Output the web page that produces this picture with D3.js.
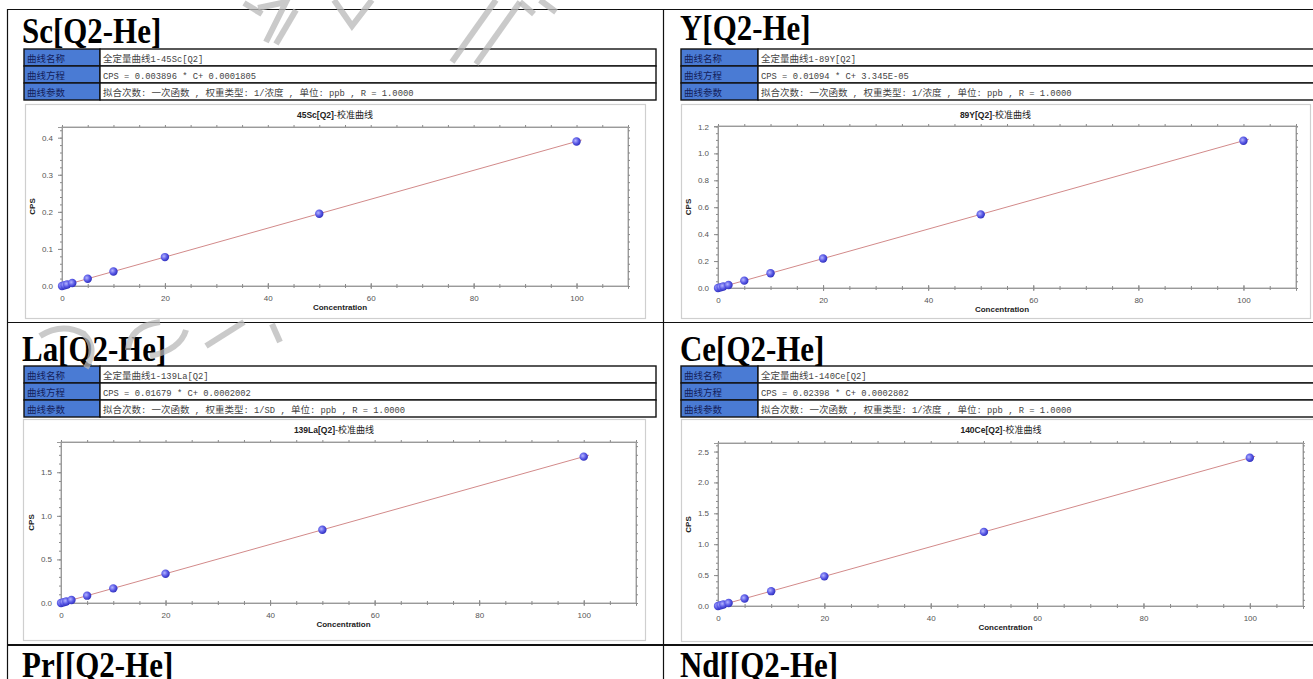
<!DOCTYPE html>
<html>
<head>
<meta charset="utf-8">
<script src="https://cdn.jsdelivr.net/npm/d3@7"></script>
<style>
  body { margin: 0; background: #fff; }
  svg { display: block; }
</style>
</head>
<body>
<script>
// ---- calibration data -------------------------------------------------
const sectionTitles = ["Sc[Q2-He]", "Y[Q2-He]", "La[Q2-He]", "Ce[Q2-He]"];
const nextTitles = ["Pr[[Q2-He]", "Nd[[Q2-He]"];
const rowLabels = ["曲线名称", "曲线方程", "曲线参数"];
const curveNames = ["全定量曲线1-45Sc[Q2]", "全定量曲线1-89Y[Q2]", "全定量曲线1-139La[Q2]", "全定量曲线1-140Ce[Q2]"];
const equations = [
  "CPS = 0.003896 * C+ 0.0001805",
  "CPS = 0.01094 * C+ 3.345E-05",
  "CPS = 0.01679 * C+ 0.0002002",
  "CPS = 0.02398 * C+ 0.0002802"
];
const fitParams = [
  "拟合次数: 一次函数 , 权重类型: 1/浓度 , 单位: ppb , R = 1.0000",
  "拟合次数: 一次函数 , 权重类型: 1/浓度 , 单位: ppb , R = 1.0000",
  "拟合次数: 一次函数 , 权重类型: 1/SD , 单位: ppb , R = 1.0000",
  "拟合次数: 一次函数 , 权重类型: 1/浓度 , 单位: ppb , R = 1.0000"
];
const chartIsotopes = ["45Sc[Q2]", "89Y[Q2]", "139La[Q2]", "140Ce[Q2]"];
const chartSuffix = "-校准曲线";

const concentrations = [0, 0.5, 1, 2, 5, 10, 20, 50, 100];   // ppb
const cpsSc = [0.0002, 0.0021, 0.0041, 0.0080, 0.0197, 0.0392, 0.0780, 0.1950, 0.3898];
const cpsY  = [0.0000, 0.0055, 0.0110, 0.0219, 0.0547, 0.1094, 0.2188, 0.5470, 1.0940];
const cpsLa = [0.0002, 0.0086, 0.0170, 0.0338, 0.0842, 0.1681, 0.3360, 0.8397, 1.6792];
const cpsCe = [0.0003, 0.0123, 0.0243, 0.0482, 0.1202, 0.2401, 0.4799, 1.1993, 2.3983];
const cpsSeries = [cpsSc, cpsY, cpsLa, cpsCe];

// fitted lines (stated in the equation row)
const slopes = [0.003896, 0.01094, 0.01679, 0.02398];
const intercepts = [0.0001805, 3.345e-05, 0.0002002, 0.0002802];
const fitRange = [0, 101];

const xTicks = [0, 20, 40, 60, 80, 100];
const xMinorStep = 5;
const yTicks = [
  [0, 0.1, 0.2, 0.3, 0.4],
  [0, 0.2, 0.4, 0.6, 0.8, 1.0, 1.2],
  [0, 0.5, 1.0, 1.5],
  [0, 0.5, 1.0, 1.5, 2.0, 2.5]
];
const yMinorSteps = [0.02, 0.05, 0.1, 0.1];

// ---- page layout (pixel boxes for every section) ----------------------
const layout = [
  { title: [22, 43], table: [24, 49, 632, 76], box: [25, 104, 620, 214], plot: [62, 127, 628, 286] },
  { title: [680, 40], table: [681, 49, 640, 77], box: [681, 104, 629, 214], plot: [718, 126, 1296, 288] },
  { title: [22, 361], table: [24, 366, 632, 76], box: [23, 419, 622, 221], plot: [61, 442, 636, 603] },
  { title: [680, 361], table: [681, 366, 640, 77], box: [681, 419, 640, 222], plot: [718, 443, 1303, 606] }
];
const nextTitlePos = [[22, 677], [680, 677]];

const W = 1313, H = 679;
const svg = d3.select("body").append("svg").attr("width", W).attr("height", H);

const defs = svg.append("defs");
const grad = defs.append("radialGradient").attr("id", "ball")
  .attr("cx", "38%").attr("cy", "40%").attr("r", "65%");
grad.append("stop").attr("offset", "0%").attr("stop-color", "#b4b4ff");
grad.append("stop").attr("offset", "55%").attr("stop-color", "#5a5ae6");
grad.append("stop").attr("offset", "100%").attr("stop-color", "#2c2cb8");

// ---- document grid ----------------------------------------------------
const grid = svg.append("g").attr("stroke", "#111").attr("fill", "none");
grid.append("line").attr("x1", 7).attr("x2", W).attr("y1", 9.5).attr("y2", 9.5).attr("stroke-width", 1.2);
grid.append("line").attr("x1", 7).attr("x2", W).attr("y1", 322.5).attr("y2", 322.5).attr("stroke-width", 1.2);
grid.append("line").attr("x1", 7).attr("x2", W).attr("y1", 645).attr("y2", 645).attr("stroke-width", 2);
grid.append("line").attr("x1", 7.5).attr("x2", 7.5).attr("y1", 9).attr("y2", H).attr("stroke-width", 1.2);
grid.append("line").attr("x1", 663.5).attr("x2", 663.5).attr("y1", 9).attr("y2", H).attr("stroke-width", 1.2);

// mixed CJK / Latin runs in a single line of text
const cjkRe = /[\u3000-\u9fff\uff00-\uffef]+|[^\u3000-\u9fff\uff00-\uffef]+/g;
function richText(sel, str, latinFont, latinSize, cjkSize) {
  (str.match(cjkRe) || []).forEach(run => {
    const isCjk = /[\u3000-\u9fff\uff00-\uffef]/.test(run);
    sel.append("tspan")
      .attr("font-family", isCjk ? "'Noto Sans CJK SC'" : latinFont)
      .attr("font-size", isCjk ? cjkSize : latinSize)
      .attr("xml:space", "preserve")
      .text(run);
  });
}

// large condensed serif heading
function heading(x, y, str) {
  svg.append("text")
    .attr("transform", `translate(${x},${y}) scale(0.86,1)`)
    .attr("font-family", "'Liberation Serif', 'Times New Roman', serif")
    .attr("font-weight", "bold").attr("font-size", 36).attr("fill", "#000")
    .text(str);
}

function drawSection(i) {
  const L = layout[i];
  const g = svg.append("g");

  heading(L.title[0], L.title[1], sectionTitles[i]);

  // info table
  const [tx, ty, tw, lw] = L.table;
  const rh = 17;
  const values = [curveNames[i], equations[i], fitParams[i]];
  rowLabels.forEach((lab, r) => {
    const y = ty + r * rh;
    g.append("rect").attr("x", tx).attr("y", y).attr("width", lw).attr("height", rh)
      .attr("fill", "#4a7bd4").attr("stroke", "#111").attr("stroke-width", 1.4);
    g.append("rect").attr("x", tx + lw).attr("y", y).attr("width", tw - lw).attr("height", rh)
      .attr("fill", "#fff").attr("stroke", "#111").attr("stroke-width", 1.4);
    g.append("text").attr("x", tx + 3).attr("y", y + 12.5)
      .attr("font-family", "'Noto Sans CJK SC'").attr("font-size", 9.5).attr("fill", "#13205a")
      .text(lab);
    const t = g.append("text").attr("x", tx + lw + 3).attr("y", y + 12.5).attr("fill", "#444");
    richText(t, values[r], "'Liberation Mono', monospace", 8.8, 9.5);
  });

  // chart frame
  const [bx, by, bw, bh] = L.box;
  g.append("rect").attr("x", bx + 0.5).attr("y", by + 0.5).attr("width", bw).attr("height", bh)
    .attr("fill", "#fff").attr("stroke", "#cfcfcf").attr("stroke-width", 1.2);

  const title = g.append("text").attr("x", bx + bw / 2).attr("y", by + 14)
    .attr("text-anchor", "middle").attr("fill", "#222");
  title.append("tspan").attr("font-family", "'Liberation Sans', Arial, sans-serif")
    .attr("font-weight", "bold").attr("font-size", 8.5).text(chartIsotopes[i]);
  title.append("tspan").attr("font-family", "'Noto Sans CJK SC'").attr("font-size", 9)
    .text(chartSuffix);

  // scales
  const [px0, py0, px1, py1] = L.plot;
  const cps = cpsSeries[i];
  const x = d3.scaleLinear().domain([0, d3.max(concentrations) * 1.1]).range([px0, px1]);
  const y = d3.scaleLinear().domain([0, d3.max(cps) * 1.1]).range([py1, py0]);

  const xMinor = d3.range(0, x.domain()[1] + 1e-9, xMinorStep);
  const yMinor = d3.range(0, y.domain()[1] + 1e-9, yMinorSteps[i]);

  const axes = g.append("g").attr("font-family", "'Liberation Sans', Arial, sans-serif");
  const style = a => {
    a.select(".domain").attr("stroke", "#9a9a9a");
    a.selectAll(".tick line").attr("stroke", "#8a8a8a");
    a.selectAll(".tick text").attr("fill", "#555").attr("font-size", 8);
  };

  // frame around plot
  axes.append("rect").attr("x", px0).attr("y", py0).attr("width", px1 - px0).attr("height", py1 - py0)
    .attr("fill", "none").attr("stroke", "#a8a8a8");

  // bottom: major ticks cross the axis line, minor ticks short
  axes.append("g").attr("transform", `translate(0,${py1})`)
    .call(d3.axisBottom(x).tickValues(xTicks).tickSize(3).tickPadding(6).tickFormat(d3.format("d")))
    .call(style).call(a => a.selectAll(".tick line").attr("y1", -3));
  axes.append("g").attr("transform", `translate(0,${py1})`)
    .call(d3.axisBottom(x).tickValues(xMinor).tickSize(2).tickFormat(""))
    .call(style).call(a => a.selectAll(".tick line").attr("y1", -2));
  // top & right: short outward marks
  axes.append("g").attr("transform", `translate(0,${py0})`)
    .call(d3.axisTop(x).tickValues(xMinor).tickSize(2).tickFormat("")).call(style);
  axes.append("g").attr("transform", `translate(${px1},0)`)
    .call(d3.axisRight(y).tickValues(yMinor).tickSize(2).tickFormat("")).call(style);
  // left axis
  axes.append("g").attr("transform", `translate(${px0},0)`)
    .call(d3.axisLeft(y).tickValues(yTicks[i]).tickSize(4).tickPadding(5).tickFormat(d3.format(".1f")))
    .call(style);
  axes.append("g").attr("transform", `translate(${px0},0)`)
    .call(d3.axisLeft(y).tickValues(yMinor).tickSize(2).tickFormat(""))
    .call(style);

  // axis titles
  axes.append("text").attr("transform", `translate(${px0 - 27},${(py0 + py1) / 2}) rotate(-90)`)
    .attr("text-anchor", "middle").attr("font-weight", "bold").attr("font-size", 8).attr("fill", "#222")
    .text("CPS");
  axes.append("text").attr("x", (px0 + px1) / 2 - 5).attr("y", py1 + 24)
    .attr("text-anchor", "middle").attr("font-weight", "bold").attr("font-size", 8).attr("fill", "#222")
    .text("Concentration");

  // fitted calibration line
  const fit = fitRange.map(c => [c, slopes[i] * c + intercepts[i]]);
  g.append("path").datum(fit)
    .attr("d", d3.line().x(d => x(d[0])).y(d => y(d[1])))
    .attr("fill", "none").attr("stroke", "#d28a8a").attr("stroke-width", 1);

  // standards
  g.append("g").selectAll("circle")
    .data(concentrations.map((c, k) => [c, cps[k]]))
    .join("circle")
    .attr("cx", d => x(d[0])).attr("cy", d => y(d[1])).attr("r", 4.2)
    .attr("fill", "url(#ball)");
}

[0, 1, 2, 3].forEach(drawSection);

// headings of the next sections
nextTitles.forEach((t, k) => heading(nextTitlePos[k][0], nextTitlePos[k][1], t));

// faint stamp strokes lying over the page
const stamp = svg.append("g").attr("fill", "none").attr("stroke", "#b8b8b8")
  .attr("stroke-opacity", 0.75).attr("stroke-width", 6).attr("stroke-linecap", "butt");
[
  "M244,3 L262,14",
  "M258,8 L286,2 L266,42",
  "M276,44 L296,10",
  "M334,0 L352,26 L372,0",
  "M452,62 L496,0",
  "M476,64 L520,2",
  "M520,2 L534,14",
  "M540,0 L556,12",
  "M40,336 Q62,322 84,334 Q98,348 86,368",
  "M128,350 Q130,326 160,322",
  "M150,356 Q180,350 186,330",
  "M206,346 L244,322",
  "M272,324 L280,342"
].forEach(d => stamp.append("path").attr("d", d));
</script>
</body>
</html>
